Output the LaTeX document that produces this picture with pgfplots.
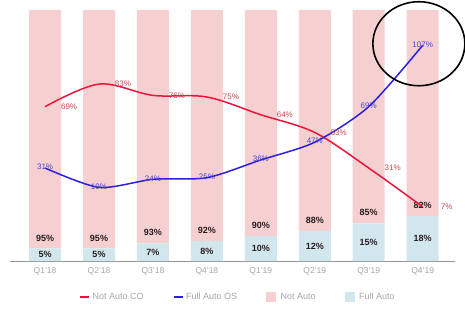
\documentclass[border=0pt]{standalone}
\usepackage{pgfplots}
\pgfplotsset{compat=1.18}
\usepackage{pgfplotstable}
\usepackage{fontspec}
\setmainfont{Liberation Sans}
\definecolor{pinkbar}{RGB}{246,208,208}
\definecolor{bluebar}{RGB}{210,230,238}
\definecolor{redline}{RGB}{232,22,58}
\definecolor{blueline}{RGB}{44,30,222}
\definecolor{redlab}{RGB}{205,70,80}
\definecolor{bluelab}{RGB}{70,70,200}
\definecolor{ticklab}{RGB}{165,165,165}
\definecolor{axisgray}{RGB}{150,150,150}
\definecolor{barlab}{RGB}{40,30,30}

\pgfplotstableread{
x full notauto
0 5 95
1 5 95
2 7 93
3 8 92
4 10 90
5 12 88
6 15 85
7 18 82
}\bars
\pgfplotstableread{
x notautoco fullautoos
0 69 31
1 83 19
2 76 24
3 75 25
4 64 36
5 53 47
6 31 69
7 7 107
}\lines

\begin{document}
\begin{tikzpicture}
\useasboundingbox (0,0) rectangle (465pt,316pt);
\pgfplotsset{common/.style={
  scale only axis, width=445pt, height=251pt,
  at={(10pt,55pt)}, anchor=south west,
  xmin=-0.65, xmax=7.6, clip=false,
  /pgf/number format/assume math mode=true}}
% bars
\begin{axis}[common,
  ybar stacked, bar width=32pt,
  ymin=0, ymax=100,
  axis y line=none, axis x line*=bottom,
  x axis line style={draw=axisgray, line width=0.6pt, -},
  xtick=data, xticklabels={Q1'18,Q2'18,Q3'18,Q4'18,Q1'19,Q2'19,Q3'19,Q4'19},
  major tick length=0pt,
  xticklabel style={font=\fontsize{8.5}{9}\selectfont, text=ticklab, yshift=-3pt},
  legend style={at={(0.512,-0.143)}, anchor=center, draw=none, fill=none,
    font=\fontsize{9}{10}\selectfont, text=ticklab, legend columns=4,
    /tikz/every even column/.append style={column sep=27pt}},
  legend cell align=left]
\addplot[fill=bluebar, draw=none, forget plot] table[x=x, y=full] {\bars};
\addplot[fill=pinkbar, draw=none, forget plot] table[x=x, y=notauto] {\bars};
\addlegendimage{legend image code/.code={\draw[redline, line width=2.5pt] (0pt,0pt) -- (9pt,0pt);}}
\addlegendentry{Not Auto CO}
\addlegendimage{legend image code/.code={\draw[blueline, line width=2.5pt] (0pt,0pt) -- (9pt,0pt);}}
\addlegendentry{Full Auto OS}
\addlegendimage{legend image code/.code={\fill[pinkbar] (0pt,-4.5pt) rectangle (9pt,4.5pt);}}
\addlegendentry{\hspace{3pt}Not Auto}
\addlegendimage{legend image code/.code={\fill[bluebar] (0pt,-4.5pt) rectangle (9pt,4.5pt);}}
\addlegendentry{\hspace{3pt}Full Auto}
\end{axis}
% bar labels
\begin{axis}[common, ymin=0, ymax=100, hide axis,
  nodes near coords={\pgfmathprintnumber{\pgfplotspointmeta}\%},
  nodes near coords align=center,
  every node near coord/.append style={font=\bfseries\fontsize{9}{10}\selectfont, text=barlab, anchor=center}]
\addplot[draw=none, mark=none, point meta=explicit] table[x=x, y expr=\thisrow{full}/2, meta=full] {\bars};
\addplot[draw=none, mark=none, point meta=explicit] table[x=x, y expr=\thisrow{full}+4.2, meta=notauto] {\bars};
\end{axis}
% lines
\begin{axis}[common, ymin=-26.6, ymax=128.9, hide axis,
  nodes near coords={\pgfmathprintnumber{\pgfplotspointmeta}\%},
  every node near coord/.append style={font=\fontsize{8}{9}\selectfont, anchor=center}]
\addplot[redline, line width=1.5pt, smooth, tension=0.55, mark=none,
  every node near coord/.append style={text=redlab, xshift=24pt}]
  table[x=x, y=notautoco] {\lines};
\addplot[blueline, line width=1.5pt, smooth, tension=0.45, mark=none,
  every node near coord/.append style={text=bluelab, yshift=1pt}]
  table[x=x, y=fullautoos] {\lines};
\draw[black, line width=1.6pt] (axis cs:6.93,108) ellipse [x radius=46pt, y radius=42pt];
\end{axis}
\end{tikzpicture}
\end{document}
